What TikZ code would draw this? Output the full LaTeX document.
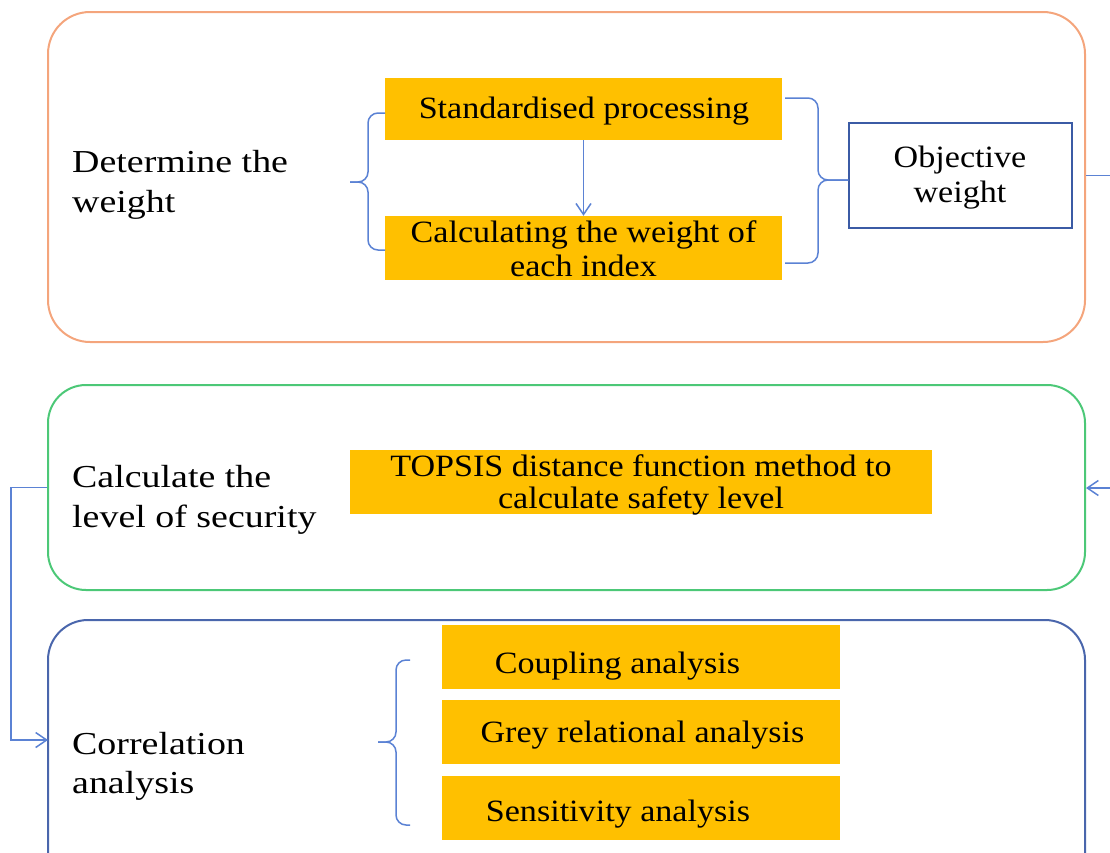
\documentclass[tikz,border=0pt]{standalone}
\usepackage{fontspec}
\setmainfont{Liberation Serif}
\newfontfamily\boxfont[FakeStretch=1.1]{Liberation Serif}
\newfontfamily\widefont[FakeStretch=1.185]{Liberation Serif}
\usetikzlibrary{arrows.meta}

\definecolor{frameorange}{HTML}{F4A57C}
\definecolor{framegreen}{HTML}{4CC877}
\definecolor{frameblue}{HTML}{4A66AC}
\definecolor{linkblue}{HTML}{5B82D4}
\definecolor{gold}{HTML}{FFC000}
\definecolor{objblue}{HTML}{3B5BA5}

\tikzset{
  frame/.style={draw, line width=2pt, rounded corners=42pt, inner sep=0pt},
  goldbox/.style={fill=gold, inner sep=0pt},
  itemtext/.style={inner sep=0pt, align=center, font=\boxfont\fontsize{31}{34}\selectfont},
  stagelabel/.style={anchor=west, inner sep=0pt, align=left,
    font=\widefont\fontsize{32}{40}\selectfont},
  link/.style={draw=linkblue, line width=1.5pt},
  brace/.style={draw=linkblue, line width=1.5pt, rounded corners=10pt},
  tip/.style={-{Straight Barb[length=11pt,width=15pt,line width=1.5pt]}},
}

\begin{document}
\begin{tikzpicture}[x=1pt,y=-1pt]
\useasboundingbox (0,0) rectangle (1110,852);
\clip (0,0) rectangle (1110,852);

% stage frames
\node[frame, draw=frameorange, minimum width=1037pt, minimum height=330pt] (wf) at (566.5,177) {};
\node[frame, draw=framegreen, minimum width=1037pt, minimum height=205pt, rounded corners=38pt] (sf) at (566.5,487.5) {};
\node[frame, draw=frameblue, minimum width=1037pt, minimum height=280pt, rounded corners=40pt] (cf) at (566.5,760) {};

% stage labels
\node[stagelabel] (lw) at (72,184.5) {Determine the\\weight};
\node[stagelabel] (ls) at (72,499.5) {Calculate the\\level of security};
\node[stagelabel, font=\widefont\fontsize{32}{39}\selectfont] (lc) at (72,766) {Correlation\\analysis};

% weighting steps
\node[goldbox, minimum width=397pt, minimum height=62pt] (sp) at (583.5,109) {};
\node[itemtext, anchor=base] (spt) at (584,118.5) {Standardised processing};
\node[goldbox, minimum width=397pt, minimum height=64pt] (cw) at (583.5,248) {};
\node[itemtext] (cwt) at (583.5,248.5) {Calculating the weight of\\each index};
\node[draw=objblue, line width=1.5pt, fill=white, minimum width=223pt, minimum height=105pt,
      inner sep=0pt] (ow) at (960.5,175.5) {};
\node[itemtext, font=\boxfont\fontsize{31}{35}\selectfont] (owt) at (960,177.3) {Objective\\weight};

% security level
\node[goldbox, minimum width=582pt, minimum height=64pt] (tp) at (641,482) {};
\node[itemtext, font=\boxfont\fontsize{31}{32}\selectfont] (tpt) at (641,484.7)
  {TOPSIS distance function method to\\calculate safety level};

% correlation analyses
\node[goldbox, minimum width=398pt, minimum height=64pt] (cp) at (641,657) {};
\node[goldbox, minimum width=398pt, minimum height=64pt] (gr) at (641,732) {};
\node[goldbox, minimum width=398pt, minimum height=64pt] (sa) at (641,808) {};
\node[itemtext, anchor=base] (cpt) at (617.5,673.3) {Coupling analysis};
\node[itemtext, anchor=base] (grt) at (642.5,742.7) {Grey relational analysis};
\node[itemtext, anchor=base] (sat) at (618,821.7) {Sensitivity analysis};

% connectors
\draw[link, tip] (sp.south) -- (cw.north);

\coordinate (outR) at (1110,175.5);
\draw[link] (wf.east |- outR) -- (outR);

\coordinate (inR) at (1110,488);
\draw[link, tip] (inR) -- (sf.east |- inR);

\coordinate (inL) at (48,740);
\draw[link, tip] (sf.west) -- ++(-36pt,0pt) |- (inL);

% braces
\draw[brace] (385,113) -- (368,113) -- (368,182) -- (350,182);
\draw[brace] (385,250) -- (368,250) -- (368,182) -- (350,182);

\draw[brace] (785,98) -- (818,98) -- (818,180) -- (ow.west |- 0,180);
\draw[brace] (785,263) -- (818,263) -- (818,180) -- (ow.west |- 0,180);

\draw[brace] (410,660) -- (396,660) -- (396,742) -- (378,742);
\draw[brace] (410,825) -- (396,825) -- (396,742) -- (378,742);
\end{tikzpicture}
\end{document}
